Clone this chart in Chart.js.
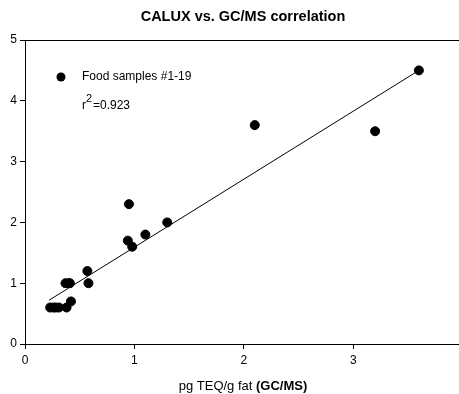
<!DOCTYPE html>
<html>
<head>
<meta charset="utf-8">
<script src="https://cdn.jsdelivr.net/npm/chart.js@4/dist/chart.umd.min.js"></script>
<style>
  html, body { margin: 0; padding: 0; background: #fff; overflow: hidden; }
  #wrap { width: 470px; height: 394px; }
</style>
</head>
<body>
<div id="wrap"><canvas id="chart"></canvas></div>
<script>
// GC/MS (x) vs CALUX (y), pg TEQ/g fat
const gcms  = [3.6, 2.1, 3.2, 1.3, 1.1, 0.95, 0.94, 0.98, 0.57, 0.58, 0.37, 0.41, 0.42, 0.38, 0.23, 0.26, 0.28, 0.31, 0.40];
const calux = [4.5, 3.6, 3.5, 2.0, 1.8, 2.3, 1.7, 1.6, 1.2, 1.0, 1.0, 1.0, 0.7, 0.6, 0.6, 0.6, 0.6, 0.6, 1.0];
const fitX  = [0.22, 3.6];
const fitY  = [0.72, 4.5];
const xTicks = [0, 1, 2, 3, 4];
const yTicks = [0, 1, 2, 3, 4, 5];

const font = 'Liberation Sans, Arial, sans-serif';

const extras = {
  id: 'extras',
  afterDraw(chart) {
    const c = chart.ctx, a = chart.chartArea;
    c.save();
    // frame
    c.strokeStyle = '#000';
    c.lineWidth = 1;
    c.strokeRect(a.left + 0.5, a.top + 0.5, a.right - a.left, a.bottom - a.top);
    // title
    c.fillStyle = '#000';
    c.textAlign = 'center';
    c.textBaseline = 'middle';
    c.font = 'bold 14.5px ' + font;
    c.fillText('CALUX vs. GC/MS correlation', 243, 17);
    // legend
    c.beginPath();
    c.arc(a.left + 36, a.top + 37, 4.5, 0, Math.PI * 2);
    c.fill();
    c.textAlign = 'left';
    c.font = '12px ' + font;
    c.fillText('Food samples #1-19', a.left + 57, a.top + 37);
    c.fillText('r', a.left + 57, a.top + 66);
    c.font = '11px ' + font;
    c.fillText('2', a.left + 61, a.top + 59);
    c.font = '12px ' + font;
    c.fillText('=0.923', a.left + 68, a.top + 66);
    // x axis title with mixed weight
    const t1 = 'pg TEQ/g fat ', t2 = '(GC/MS)';
    c.font = '13px ' + font;
    const w1 = c.measureText(t1).width;
    c.font = 'bold 13px ' + font;
    const w2 = c.measureText(t2).width;
    const x0 = 243 - (w1 + w2) / 2;
    c.font = '13px ' + font;
    c.fillText(t1, x0, 386);
    c.font = 'bold 13px ' + font;
    c.fillText(t2, x0 + w1, 386);
    c.restore();
  }
};

const points = gcms.map((x, i) => ({ x: x, y: calux[i] }));
const fit = fitX.map((x, i) => ({ x: x, y: fitY[i] }));

new Chart(document.getElementById('chart'), {
  type: 'scatter',
  data: {
    datasets: [{
      label: 'Food samples #1-19',
      data: points,
      backgroundColor: '#000',
      borderColor: '#000',
      pointRadius: 4.5,
      pointHoverRadius: 4.5
    }, {
      type: 'line',
      label: 'fit',
      data: fit,
      borderColor: '#000',
      borderWidth: 1,
      pointRadius: 0,
      fill: false
    }]
  },
  options: {
    responsive: true,
    maintainAspectRatio: false,
    animation: false,
    layout: { padding: { top: 40, right: 5, left: 0, bottom: 0 } },
    plugins: { legend: { display: false }, title: { display: false }, tooltip: { enabled: false } },
    scales: {
      x: {
        type: 'linear',
        min: 0, max: 4,
        afterBuildTicks: s => { s.ticks = xTicks.map(v => ({ value: v })); },
        afterFit: s => { s.height = 50; },
        grid: { drawOnChartArea: false, drawTicks: true, tickLength: 5, color: '#000' },
        border: { color: '#000' },
        ticks: { color: '#000', font: { family: font, size: 12 }, padding: 4, maxRotation: 0 }
      },
      y: {
        min: 0, max: 5,
        afterBuildTicks: s => { s.ticks = yTicks.map(v => ({ value: v })); },
        afterFit: s => { s.width = 25; },
        grid: { drawOnChartArea: false, drawTicks: true, tickLength: 5, color: '#000' },
        border: { color: '#000' },
        ticks: { color: '#000', font: { family: font, size: 12 }, padding: 3 }
      }
    }
  },
  plugins: [extras]
});
</script>
</body>
</html>
